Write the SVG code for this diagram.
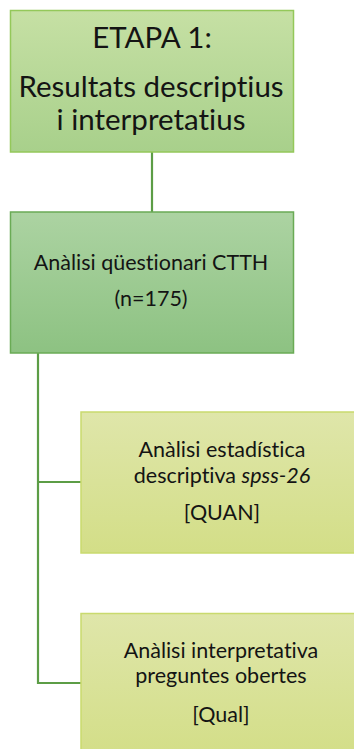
<svg xmlns="http://www.w3.org/2000/svg" width="354" height="749" viewBox="0 0 354 749">
  <defs>
    <linearGradient id="gTop" x1="0" y1="0" x2="0" y2="1">
      <stop offset="0" stop-color="#c6e0a4"/>
      <stop offset="1" stop-color="#a8d08b"/>
    </linearGradient>
    <linearGradient id="gMid" x1="0" y1="0" x2="0" y2="1">
      <stop offset="0" stop-color="#acd3a2"/>
      <stop offset="1" stop-color="#8dc282"/>
    </linearGradient>
    <linearGradient id="gLeaf" x1="0" y1="0" x2="0" y2="1">
      <stop offset="0" stop-color="#dfe6aa"/>
      <stop offset="1" stop-color="#d3de87"/>
    </linearGradient>
  </defs>
  <style>
    text { font-family: Lato, "Open Sans", "Liberation Sans", sans-serif; fill: #141414; text-anchor: middle; font-variant-ligatures: none; font-feature-settings: "liga" 0, "clig" 0; }
    .t1 { font-size: 29.5px; }
    .t2 { font-size: 21.5px; }
    .link { fill: none; stroke: #5c9d46; stroke-width: 2.2; }
  </style>

  <g id="connectors">
    <line class="link" x1="152" y1="152" x2="152" y2="212"/>
    <polyline class="link" points="38,353 38,683 81,683"/>
    <line class="link" x1="38" y1="482" x2="81" y2="482"/>
  </g>

  <g id="stage">
    <rect x="10.5" y="10.5" width="283" height="141.5" fill="url(#gTop)" stroke="#94c85a" stroke-width="1.5"/>
    <text class="t1" x="152" y="48">ETAPA 1:</text>
    <text class="t1" x="151" y="97">Resultats descriptius</text>
    <text class="t1" x="151" y="130">i interpretatius</text>
  </g>

  <g id="questionnaire">
    <rect x="10.5" y="212" width="283" height="141" fill="url(#gMid)" stroke="#6aab55" stroke-width="1.5"/>
    <text class="t2" x="151" y="270">Anàlisi qüestionari CTTH</text>
    <text class="t2" x="151" y="306">(n=175)</text>
  </g>

  <g id="quan">
    <rect x="81" y="412" width="280" height="141" fill="url(#gLeaf)" stroke="#c9da6e" stroke-width="1.5"/>
    <text class="t2" x="222" y="457">Anàlisi estadística</text>
    <text class="t2" x="222" y="483">descriptiva <tspan font-style="italic">spss-26</tspan></text>
    <text class="t2" x="222" y="520">[QUAN]</text>
  </g>

  <g id="qual">
    <rect x="81" y="613.5" width="280" height="145" fill="url(#gLeaf)" stroke="#c9da6e" stroke-width="1.5"/>
    <text class="t2" x="221" y="658">Anàlisi interpretativa</text>
    <text class="t2" x="221" y="683">preguntes obertes</text>
    <text class="t2" x="221" y="722">[Qual]</text>
  </g>
</svg>
